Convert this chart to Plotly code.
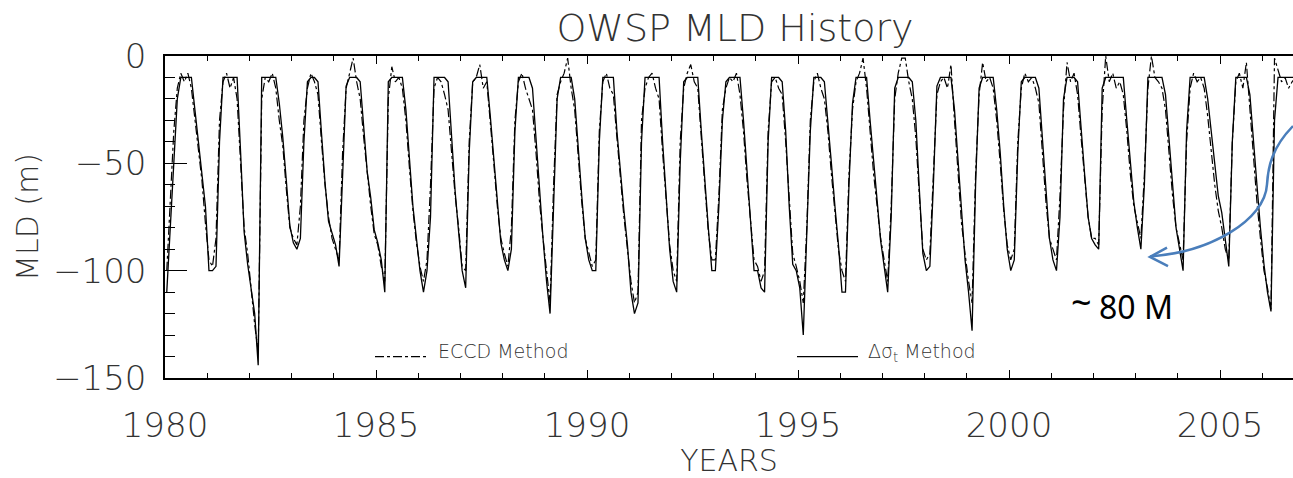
import plotly.graph_objects as go

# ---------------- data (monthly mixed-layer depth, m; Jan 1980 .. Oct 2006) ----------------
START_YEAR = 1980

delta_sigma_mld = [
    -110, -80, -45, -20, -10, -10, -10, -10, -25, -40, -52, -70,      # 1980
    -100, -100, -98, -40, -10, -10, -10, -10, -10, -45, -82, -97,     # 1981
    -108, -120, -144, -10, -10, -10, -10, -10, -22, -38, -58, -79,    # 1982
    -87, -90, -85, -40, -12, -10, -10, -12, -36, -59, -77, -82,       # 1983
    -88, -98, -55, -14, -10, -10, -10, -12, -35, -54, -66, -81,       # 1984
    -87, -95, -110, -12, -10, -10, -10, -10, -25, -50, -70, -85,      # 1985
    -100, -110, -100, -75, -10, -10, -10, -10, -12, -40, -63, -82,    # 1986
    -100, -108, -45, -12, -10, -10, -10, -10, -28, -48, -68, -87,     # 1987
    -95, -100, -90, -35, -10, -10, -10, -10, -15, -40, -65, -85,      # 1988
    -105, -120, -70, -20, -10, -10, -10, -10, -20, -45, -65, -85,     # 1989
    -95, -100, -100, -40, -10, -10, -10, -10, -35, -55, -72, -88,     # 1990
    -110, -120, -115, -40, -10, -10, -10, -10, -10, -40, -65, -90,    # 1991
    -105, -110, -50, -12, -10, -10, -10, -10, -35, -60, -80, -100,    # 1992
    -100, -70, -30, -12, -10, -10, -10, -10, -30, -55, -80, -100,     # 1993
    -100, -108, -110, -40, -10, -10, -10, -12, -35, -70, -97, -100,   # 1994
    -108, -130, -85, -35, -10, -10, -10, -12, -30, -50, -70, -88,     # 1995
    -110, -110, -60, -22, -10, -10, -10, -10, -30, -50, -68, -86,     # 1996
    -98, -110, -75, -15, -10, -10, -10, -10, -12, -30, -62, -92,      # 1997
    -100, -98, -60, -14, -10, -10, -10, -10, -25, -50, -75, -95,      # 1998
    -110, -128, -60, -15, -10, -10, -10, -10, -25, -45, -70, -90,     # 1999
    -100, -95, -45, -12, -10, -10, -10, -10, -15, -40, -65, -85,      # 2000
    -95, -100, -75, -20, -10, -10, -10, -12, -35, -55, -75, -85,      # 2001
    -88, -90, -15, -10, -10, -10, -10, -10, -10, -30, -50, -68,       # 2002
    -80, -90, -60, -10, -10, -10, -10, -10, -18, -38, -62, -80,       # 2003
    -90, -100, -35, -10, -10, -10, -10, -10, -20, -35, -50, -65,      # 2004
    -73, -85, -98, -40, -10, -10, -10, -10, -18, -37, -60, -80,       # 2005
    -97, -110, -119, -30, -10, -10, -10, -10, -10, -10,               # 2006
]

eccd_mld = [
    -100, -70, -35, -15, -8, -12, -8, -15, -30, -45, -58, -78,        # 1980
    -95, -98, -85, -30, -12, -8, -15, -10, -20, -50, -80, -92,        # 1981
    -110, -125, -138, -20, -10, -12, -8, -15, -30, -42, -62, -80,     # 1982
    -85, -88, -70, -30, -15, -8, -12, -18, -40, -60, -75, -85,        # 1983
    -90, -95, -45, -15, -8, -1, -12, -20, -38, -55, -70, -83,         # 1984
    -88, -98, -105, -20, -5, -12, -10, -15, -30, -52, -72, -87,       # 1985
    -98, -105, -95, -60, -15, -10, -12, -18, -25, -45, -65, -80,      # 1986
    -98, -100, -40, -12, -10, -4, -15, -12, -30, -50, -70, -85,       # 1987
    -92, -98, -80, -30, -12, -8, -15, -20, -25, -45, -68, -85,        # 1988
    -100, -115, -60, -18, -12, -8, -1, -15, -25, -48, -68, -85,       # 1989
    -92, -98, -95, -35, -12, -8, -15, -18, -38, -58, -75, -90,        # 1990
    -105, -115, -110, -30, -15, -10, -8, -15, -20, -45, -68, -88,     # 1991
    -100, -105, -40, -15, -8, -4, -12, -15, -38, -62, -82, -95,       # 1992
    -95, -65, -25, -15, -10, -12, -8, -18, -35, -58, -78, -95,        # 1993
    -98, -105, -100, -35, -12, -10, -15, -18, -40, -68, -92, -98,     # 1994
    -105, -115, -80, -30, -12, -8, -15, -20, -35, -55, -72, -90,      # 1995
    -100, -105, -55, -25, -12, -8, -1, -15, -35, -55, -70, -85,       # 1996
    -95, -105, -70, -20, -8, -1, -1, -12, -20, -38, -65, -90,         # 1997
    -95, -92, -55, -18, -12, -10, -15, -4, -30, -55, -78, -92,        # 1998
    -105, -115, -55, -18, -3, -12, -10, -15, -30, -50, -72, -88,      # 1999
    -95, -90, -40, -15, -8, -12, -10, -15, -22, -45, -68, -85,        # 2000
    -90, -95, -65, -25, -3, -12, -8, -18, -38, -58, -75, -85,         # 2001
    -85, -88, -25, 0, -12, -8, -15, -12, -18, -35, -55, -70,          # 2002
    -78, -85, -55, -15, 0, -10, -12, -15, -25, -45, -65, -80,         # 2003
    -88, -95, -40, -15, -8, -12, -10, -15, -28, -45, -60, -72,        # 2004
    -80, -90, -95, -40, -12, -8, -15, -3, -25, -45, -68, -85,         # 2005
    -100, -108, -118, -1, -6, -12, -10, -15, -12, -10,                # 2006
]

x_tick_years = [1980, 1985, 1990, 1995, 2000, 2005]
y_tick_values = [0, -50, -100, -150]
series_names = ["ECCD Method", "Δσ<sub>t</sub> Method"]
note_tilde = "~"
note_text = "80 M"

# month centres on the time axis
x_months = [START_YEAR + (i + 0.5) / 12 for i in range(len(delta_sigma_mld))]

# ---------------- layout geometry ----------------
W, H = 1293, 478
ML, MR, MT, MB = 165, 0, 56, 91
PW, PH = W - ML - MR, H - MT - MB
PX_PER_YEAR = 42.2
X_MIN = 1980
X_MAX = X_MIN + PW / PX_PER_YEAR

def pxx(px):
    return (px - ML) / PW

def pxy(py):
    return (H - MB - py) / PH

FONT = "DejaVu Sans"
TXT = "#333333"

fig = go.Figure()
fig.add_trace(go.Scatter(x=x_months, y=eccd_mld, mode="lines", name=series_names[0],
                         line=dict(color="black", width=1.2, dash="dashdot"), showlegend=False))
fig.add_trace(go.Scatter(x=x_months, y=delta_sigma_mld, mode="lines", name=series_names[1],
                         line=dict(color="black", width=1.3), showlegend=False))

fig.update_layout(
    width=W, height=H,
    margin=dict(l=ML, r=MR, t=MT, b=MB, pad=0),
    paper_bgcolor="white", plot_bgcolor="white",
    title=dict(text="OWSP MLD History", x=735 / W, xanchor="center", xref="container",
               y=1 - 28 / H, yanchor="middle", yref="container",
               font=dict(family=FONT, size=38, color=TXT, weight=200)),
    xaxis=dict(range=[X_MIN, X_MAX], tickvals=x_tick_years, ticktext=[str(v) for v in x_tick_years],
               ticks="inside", ticklen=8, tickwidth=1.2, tickcolor="black",
               minor=dict(ticks="inside", ticklen=5, dtick=1, tickwidth=1, tickcolor="black", showgrid=False),
               showline=True, linecolor="black", linewidth=1.5, mirror="ticks",
               showgrid=False, zeroline=False, ticklabelstandoff=16,
               tickfont=dict(family=FONT, size=34, color=TXT, weight=200),
               title=dict(text="YEARS", standoff=12, font=dict(family=FONT, size=30, color=TXT, weight=200))),
    yaxis=dict(range=[-150, 0], tickvals=y_tick_values,
               ticks="inside", ticklen=22, tickwidth=1.2, tickcolor="black",
               minor=dict(ticks="inside", ticklen=10, dtick=10, tickwidth=1, tickcolor="black", showgrid=False),
               showline=True, linecolor="black", linewidth=1.5, mirror=False,
               showgrid=False, zeroline=False, ticklabelstandoff=10,
               tickfont=dict(family=FONT, size=34, color=TXT, weight=200),
               title=dict(text="MLD (m)", standoff=6, font=dict(family=FONT, size=30, color=TXT, weight=200))),
    yaxis2=dict(range=[-150, 0], overlaying="y", side="right", matches="y", tickvals=y_tick_values,
                ticks="inside", ticklen=10, tickwidth=1.2, tickcolor="black",
                minor=dict(ticks="inside", ticklen=5, dtick=10, tickwidth=1, tickcolor="black", showgrid=False),
                showline=False, showgrid=False, zeroline=False, showticklabels=False),
)

# legend samples (inside plot, bottom)
fig.add_shape(type="line", xref="paper", yref="paper", x0=pxx(375), x1=pxx(427), y0=pxy(365), y1=pxy(365),
              line=dict(color="black", width=1.2, dash="dashdot"))
fig.add_shape(type="line", xref="paper", yref="paper", x0=pxx(797), x1=pxx(858), y0=pxy(365), y1=pxy(365),
              line=dict(color="black", width=1.3))
fig.add_annotation(text=series_names[0], xref="paper", yref="paper", x=pxx(436), y=pxy(359),
                   xanchor="left", yanchor="middle", showarrow=False,
                   font=dict(family=FONT, size=19, color=TXT, weight=200))
fig.add_annotation(text=series_names[1], xref="paper", yref="paper", x=pxx(866), y=pxy(361),
                   xanchor="left", yanchor="middle", showarrow=False,
                   font=dict(family=FONT, size=19, color=TXT, weight=200))

# blue call-out arrow and note
BLUE = "#4A7EBB"
def pt(px, py):
    return f"{pxx(px):.5f},{pxy(py):.5f}"

curve = (f"M {pt(1293,128)} C {pt(1272,150)} {pt(1268,170)} {pt(1267,188)} "
         f"C {pt(1265,225)} {pt(1210,258)} {pt(1150,262)}")
head = f"M {pt(1167,253)} L {pt(1150,262.5)} L {pt(1168,272)}"
fig.add_shape(type="path", xref="paper", yref="paper", path=curve, line=dict(color=BLUE, width=2.5))
fig.add_shape(type="path", xref="paper", yref="paper", path=head, line=dict(color=BLUE, width=2.5))
fig.add_annotation(text=note_tilde, xref="paper", yref="paper", x=pxx(1081), y=pxy(309),
                   xanchor="center", yanchor="middle", showarrow=False,
                   font=dict(family="Noto Sans", size=36, color="black"))
fig.add_annotation(text=note_text, xref="paper", yref="paper", x=pxx(1136), y=pxy(313),
                   xanchor="center", yanchor="middle", showarrow=False,
                   font=dict(family="Noto Sans", size=32, color="black"))

fig.write_html("out.html")
